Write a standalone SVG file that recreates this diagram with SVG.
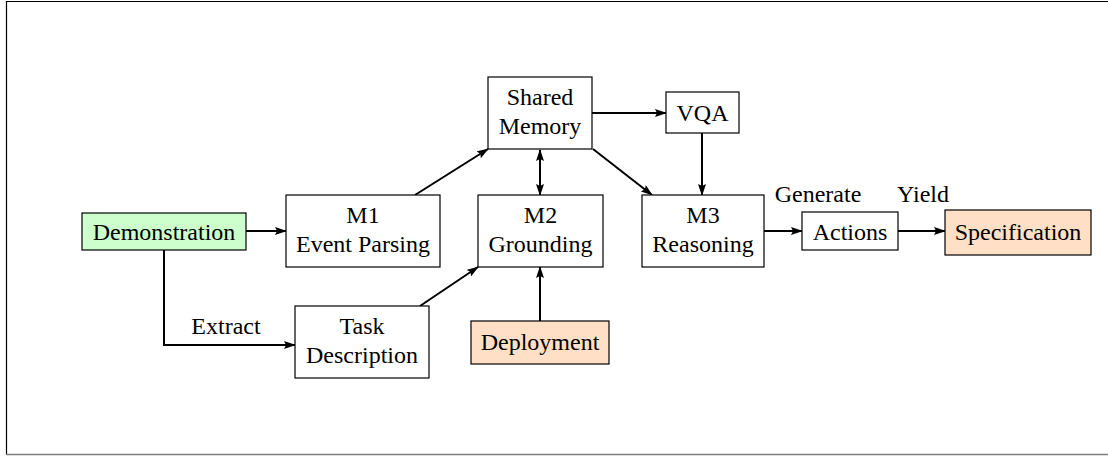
<svg xmlns="http://www.w3.org/2000/svg" width="1108" height="456" viewBox="0 0 1108 456">
  <style>
    .box { fill: #ffffff; stroke: #000000; stroke-width: 1.2; }
    .green { fill: #ccffcc; }
    .peach { fill: #ffe0c6; }
    text { font-family: "Liberation Serif", "Times New Roman", serif; font-size: 24px; fill: #000000; text-anchor: middle; }
    .edge { fill: none; stroke: #000000; stroke-width: 2; }
  </style>
  <defs>
    <marker id="arrow" viewBox="0 0 12 8" refX="11" refY="4" markerWidth="12" markerHeight="8" markerUnits="userSpaceOnUse" orient="auto">
      <path d="M0,0 L12,4 L0,8 L2,4 z" fill="#000000"/>
    </marker>
    <marker id="arrowStart" viewBox="0 0 12 8" refX="1" refY="4" markerWidth="12" markerHeight="8" markerUnits="userSpaceOnUse" orient="auto">
      <path d="M12,0 L0,4 L12,8 L10,4 z" fill="#000000"/>
    </marker>
  </defs>

  <!-- page frame -->
  <rect x="0" y="0" width="1108" height="456" fill="#ffffff"/>
  <path d="M6.5,455 L6.5,1.5 L1108,1.5" fill="none" stroke="#000000" stroke-width="1.2"/>
  <path d="M6,454.5 L1108,454.5" fill="none" stroke="#808080" stroke-width="1.5"/>

  <!-- connectors -->
  <g id="connectors">
    <path class="edge" d="M246,231 L286,231" marker-end="url(#arrow)"/>
    <path class="edge" d="M164,250 L164,345 L295,345" marker-end="url(#arrow)"/>
    <path class="edge" d="M415,195 L488,149" marker-end="url(#arrow)"/>
    <path class="edge" d="M420,306 L478,267" marker-end="url(#arrow)"/>
    <path class="edge" d="M540,150 L540,195" marker-start="url(#arrowStart)" marker-end="url(#arrow)"/>
    <path class="edge" d="M592,113 L666,113" marker-end="url(#arrow)"/>
    <path class="edge" d="M593,149 L652,195" marker-end="url(#arrow)"/>
    <path class="edge" d="M702,133 L702,195" marker-end="url(#arrow)"/>
    <path class="edge" d="M540,321 L540,267" marker-end="url(#arrow)"/>
    <path class="edge" d="M764,231 L802,231" marker-end="url(#arrow)"/>
    <path class="edge" d="M898,231 L945,231" marker-end="url(#arrow)"/>
    <text x="226" y="334">Extract</text>
    <text x="818" y="202">Generate</text>
    <text x="923" y="202">Yield</text>
  </g>

  <g id="demonstration">
    <rect class="box green" x="82" y="213" width="164" height="37"/>
    <text x="164" y="240">Demonstration</text>
  </g>

  <g id="m1">
    <rect class="box" x="286" y="195" width="154" height="72"/>
    <text x="363" y="223">M1</text>
    <text x="363" y="252">Event Parsing</text>
  </g>

  <g id="task-description">
    <rect class="box" x="295" y="306" width="134" height="72"/>
    <text x="362" y="334">Task</text>
    <text x="362" y="363">Description</text>
  </g>

  <g id="shared-memory">
    <rect class="box" x="488" y="77" width="104" height="72"/>
    <text x="540" y="105">Shared</text>
    <text x="540" y="134">Memory</text>
  </g>

  <g id="vqa">
    <rect class="box" x="666" y="92" width="73" height="41"/>
    <text x="702.5" y="121">VQA</text>
  </g>

  <g id="m2">
    <rect class="box" x="478" y="195" width="125" height="72"/>
    <text x="540.5" y="223">M2</text>
    <text x="540.5" y="252">Grounding</text>
  </g>

  <g id="m3">
    <rect class="box" x="642" y="195" width="122" height="72"/>
    <text x="703" y="223">M3</text>
    <text x="703" y="252">Reasoning</text>
  </g>

  <g id="deployment">
    <rect class="box peach" x="471" y="321" width="138" height="43"/>
    <text x="540" y="350">Deployment</text>
  </g>

  <g id="actions">
    <rect class="box" x="802" y="212" width="96" height="38"/>
    <text x="850" y="240">Actions</text>
  </g>

  <g id="specification">
    <rect class="box peach" x="945" y="210" width="146" height="45"/>
    <text x="1018" y="240">Specification</text>
  </g>
</svg>
